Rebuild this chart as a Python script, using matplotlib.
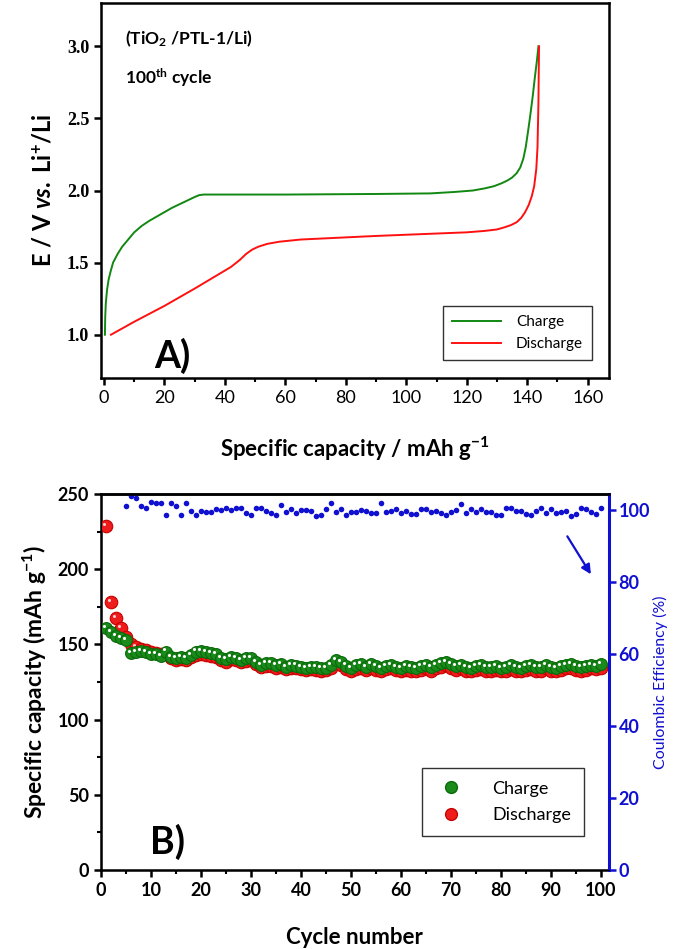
import matplotlib
matplotlib.use("Agg")
import matplotlib.pyplot as plt
import matplotlib.transforms as mtransforms
from matplotlib.ticker import MultipleLocator

plt.rcParams['font.family'] = ['Lato', 'DejaVu Sans']
plt.rcParams['mathtext.fontset'] = 'custom'
plt.rcParams['mathtext.rm'] = 'Lato:bold'
plt.rcParams['mathtext.it'] = 'Lato:italic:bold'
plt.rcParams['mathtext.bf'] = 'Lato:bold'
plt.rcParams['mathtext.default'] = 'regular'

# ---- Panel A: 100th cycle charge / discharge profile ----
charge_cap = [0.3, 0.4, 0.6, 1.0, 1.5, 2.2, 3, 4.5, 6, 8, 10, 12.5, 15, 17.5, 20, 22.5, 25,
              27.5, 30, 31.5, 33, 45, 60, 75, 90, 108, 116, 122, 126, 129, 131.5, 133.5,
              135, 136.5, 137.7, 138.7, 139.5, 140.2, 141, 141.8, 142.5, 143.2, 143.7]
charge_v = [1.0, 1.12, 1.22, 1.31, 1.38, 1.44, 1.5, 1.56, 1.61, 1.66, 1.71, 1.755, 1.79,
            1.82, 1.85, 1.88, 1.905, 1.93, 1.955, 1.968, 1.972, 1.972, 1.972, 1.974, 1.976,
            1.98, 1.99, 2.0, 2.015, 2.03, 2.05, 2.07, 2.09, 2.12, 2.16, 2.22, 2.3, 2.4,
            2.52, 2.65, 2.78, 2.9, 3.0]
discharge_cap = [2.3, 10, 20, 30, 38, 42, 45, 47, 49, 51, 54, 58, 65, 75, 90, 108, 120, 126,
                 130, 132.5, 134.6, 136.5, 138, 139.3, 140.5, 141.5, 142.3, 143, 143.4,
                 143.7, 143.9]
discharge_v = [1.0, 1.09, 1.2, 1.32, 1.42, 1.47, 1.52, 1.56, 1.59, 1.61, 1.63, 1.645, 1.66,
               1.67, 1.685, 1.70, 1.71, 1.72, 1.73, 1.745, 1.76, 1.78, 1.81, 1.85, 1.9, 1.96,
               2.03, 2.15, 2.3, 2.6, 3.0]

# ---- Panel B: cycling ----
cycles = list(range(1, 101))
charge_b = [160.7, 158, 155.8, 154, 152.9, 144, 144.6, 145.5, 144.6, 143.4,
            143.4, 142.5, 145.2, 141.8, 140.7, 141.8, 140.7, 143, 145.2, 145.6,
            144.6, 144, 143.4, 141.1, 140.2, 141.8, 141.1, 139.6, 140.7, 141.1,
            138.5, 136.3, 137.4, 137.4, 136.3, 136.8, 135.2, 136.3, 135.9, 135.2,
            134.5, 135.2, 135.2, 134, 134.5, 136.3, 139.6, 138.5, 135.9, 134,
            136.3, 136.8, 135.2, 137, 135.5, 134.5, 135.8, 136.5, 135, 134.5,
            135.5, 134.8, 134.5, 135.5, 136.2, 135, 136.5, 137.5, 138.5, 137,
            135.8, 136.5, 135, 134.5, 135.5, 136, 135, 134.8, 135.5, 134.5,
            135, 136, 135.2, 134.5, 135.5, 136, 134.8, 135, 136.5, 135,
            134.5, 135.5, 136.5, 137, 135.5, 134.8, 135.5, 136.2, 135.8, 136.8]
discharge_b = [228.5, 178, 167.5, 161, 155, 150, 148.5, 147, 146, 145,
               144.5, 143.5, 143.5, 141, 139.5, 140, 139.5, 141.5, 143, 143.5,
               143, 142.5, 141.5, 139.5, 138.5, 140, 139.5, 138, 139, 139.5,
               137, 135, 135.5, 135.5, 134.5, 135, 133.5, 134.5, 134, 133.5,
               133, 133.5, 133, 132.5, 133, 134.5, 137.5, 136.5, 133.5, 132,
               133.5, 134, 133, 134.5, 133, 132.5, 133.5, 134, 133, 132.5,
               133, 132.5, 132, 133, 134, 132.5, 134, 135, 136, 134.5,
               133, 134, 132.5, 132, 133, 133.5, 132.5, 132, 133, 132,
               132.5, 133.5, 132.5, 132, 133, 133.5, 132, 132.5, 134, 132.5,
               132, 133, 134, 134.5, 133, 132, 133, 134, 133.5, 134.5]
ce_cycles = list(range(5, 101))
ce = [101.1, 103.8, 103.2, 101.1, 100.6, 102.2, 101.8, 101.8, 98.5, 102,
      101.1, 98.6, 101.8, 99.6, 98.5, 99.6, 99.4, 99.4, 100.2, 99.9,
      100.5, 99.9, 100.5, 100.5, 99.0, 98.5, 100.5, 100.5, 99.8, 99.2,
      98.5, 101.3, 99.3, 100.2, 99.2, 99.9, 99.9, 99.8, 98.4, 98.5,
      100.1, 101.8, 99.3, 100.1, 98.5, 99.4, 99.4, 100, 99.8, 99.0,
      99.2, 101.8, 99.4, 99.6, 100.1, 99.2, 99.8, 98.8, 98.9, 100.2,
      100.2, 99.5, 99.8, 99.0, 98.6, 99.4, 99.9, 101.6, 99.2, 100.3,
      99.5, 100.2, 99.4, 99.3, 98.6, 98.5, 100.6, 100.4, 99.6, 99.8,
      98.7, 98.5, 99.6, 100.4, 99.2, 100.1, 99.0, 99.3, 99.6, 98.4,
      98.7, 100.4, 100.2, 99.5, 98.8, 100.5]

green = '#1a8a1a'
red = '#ee1c1c'
blue = '#1010d0'

fig = plt.figure(figsize=(6.75, 9.49), dpi=100)
axA = fig.add_axes([0.1496, 0.6017, 0.7524, 0.3951])
axB = fig.add_axes([0.1496, 0.0833, 0.7524, 0.3962])

for ax in (axA, axB):
    for s in ax.spines.values():
        s.set_linewidth(1.8)
    ax.tick_params(which='major', direction='out', length=5, width=1.8)
    ax.tick_params(which='minor', direction='out', length=3, width=1.5)

# Panel A
axA.plot(charge_cap, charge_v, color='#118811', lw=1.4, label='Charge')
axA.plot(discharge_cap, discharge_v, color='#ff1010', lw=1.4, label='Discharge')
axA.set_xlim(-1, 167)
axA.set_ylim(0.7, 3.3)
axA.xaxis.set_major_locator(MultipleLocator(20))
axA.xaxis.set_minor_locator(MultipleLocator(10))
axA.set_yticks([1.0, 1.5, 2.0, 2.5, 3.0])
axA.set_yticklabels(['1.0', '1.5', '2.0', '2.5', '3.0'], family='Liberation Serif',
                    fontweight='bold', fontsize=13)
axA.tick_params(axis='x', labelsize=13, pad=4)
axA.set_xlabel('Specific capacity / mAh g$^{-1}$', fontsize=16, fontweight='bold', labelpad=20)
axA.set_ylabel('E / V $\\it{vs.}$ Li$^{+}$/Li', fontsize=17, fontweight='bold', labelpad=8)
axA.text(0.047, 0.905, '(TiO$_2$ /PTL-1/Li)', transform=axA.transAxes, fontsize=12.5,
         fontweight='bold', va='center')
axA.text(0.047, 0.8, '100$^{th}$ cycle', transform=axA.transAxes, fontsize=12.5,
         fontweight='bold', va='center')
axA.text(0.14, 0.06, 'A)', transform=axA.transAxes, fontsize=27, fontweight='bold',
         ha='center', va='center')
legA = axA.legend(loc='lower right', bbox_to_anchor=(0.982, 0.027), fontsize=11,
                  handlelength=3.2, fancybox=False, edgecolor='#333333', framealpha=1,
                  borderpad=0.6, labelspacing=0.5, handletextpad=1.0)
legA.get_frame().set_linewidth(1.0)

# Panel B
axB.plot(cycles, discharge_b, 'o', ms=9, color=red, mec='#c80000', mew=0.8, label='Discharge', zorder=3)
axB.plot(cycles, charge_b, 'o', ms=8.5, color=green, mec='#0a6a0a', mew=0.8, label='Charge', zorder=4)
hl = mtransforms.offset_copy(axB.transData, fig=fig, x=-1.5, y=1.5, units='points')
axB.plot(cycles, discharge_b, 'o', ms=2.2, color='#ffd0d0', mew=0, transform=hl, zorder=3.5)
axB.plot(cycles, charge_b, 'o', ms=2.2, color='white', mew=0, transform=hl, zorder=4.5)
axB.set_xlim(0, 101.6)
axB.set_ylim(0, 250)
axB.xaxis.set_major_locator(MultipleLocator(10))
axB.xaxis.set_minor_locator(MultipleLocator(5))
axB.yaxis.set_major_locator(MultipleLocator(50))
axB.yaxis.set_minor_locator(MultipleLocator(25))
axB.tick_params(labelsize=13)
for lab in axB.get_xticklabels() + axB.get_yticklabels():
    lab.set_fontweight('bold')
axB.set_xlabel('Cycle number', fontsize=16, fontweight='bold', labelpad=20)
axB.set_ylabel('Specific capacity (mAh g$^{-1}$)', fontsize=16.5, fontweight='bold', labelpad=6)
axB.text(0.13, 0.074, 'B)', transform=axB.transAxes, fontsize=27, fontweight='bold',
         ha='center', va='center')
axB.annotate('', xy=(98.3, 195), xytext=(93, 223.4),
             arrowprops=dict(arrowstyle='-|>', color=blue, lw=1.6, mutation_scale=14))
h_c, = axB.plot([], [], 'o', ms=8.5, color=green, mec='#0a6a0a')
h_d, = axB.plot([], [], 'o', ms=8.5, color=red, mec='#c80000')
legB = axB.legend([h_c, h_d], ['Charge', 'Discharge'], loc='lower right',
                  bbox_to_anchor=(0.969, 0.066), fontsize=13, fancybox=False,
                  edgecolor='#333333', framealpha=1, borderpad=0.7, labelspacing=0.6,
                  handletextpad=1.4, handlelength=1.8)
legB.get_frame().set_linewidth(1.0)

axR = axB.twinx()
axR.plot(ce_cycles, ce, 'o', ms=4, color=blue, mew=0)
axR.set_ylim(0, 104.4)
axR.yaxis.set_major_locator(MultipleLocator(20))
axR.spines['right'].set_color(blue)
axR.spines['right'].set_linewidth(2.2)
axR.spines['top'].set_linewidth(1.8)
axR.tick_params(axis='y', colors=blue, direction='out', length=5, width=1.8, labelsize=13, pad=2)
for lab in axR.get_yticklabels():
    lab.set_fontweight('bold')
axR.set_ylabel('Coulombic Efficiency (%)', color=blue, fontsize=11.5, labelpad=2)

fig.savefig('out.png', dpi=100)
